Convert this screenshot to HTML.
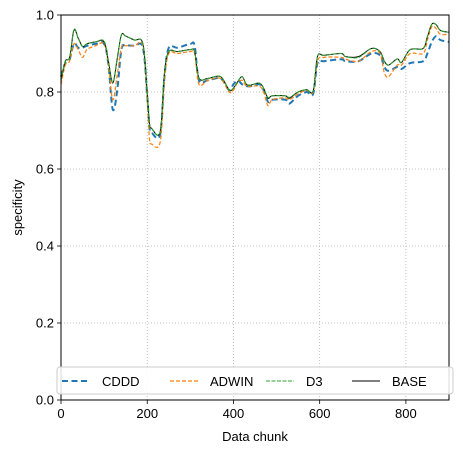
<!DOCTYPE html>
<html><head><meta charset="utf-8"><style>
body{margin:0;background:#fff}
svg{font-family:"Liberation Sans","DejaVu Sans",sans-serif}
</style></head><body>
<svg id="chart" width="463" height="453">
<rect width="463" height="453" fill="#fff"/>
<g id="grid"></g><g id="series"></g><g id="axes"></g><g id="legend"></g>
</svg>
<script>
const xs=[0,10,20,30,40,50,60,80,100,110,120,130,140,150,170,190,200,205,210,230,240,250,270,300,310,320,340,370,390,400,410,420,430,440,460,470,480,490,520,530,550,570,585,595,610,650,660,690,720,740,750,760,780,790,810,840,850,860,870,880,900];
const baseVals=[0.83,0.88,0.89,0.96,0.94,0.918,0.925,0.93,0.93,0.88,0.823,0.883,0.948,0.945,0.935,0.925,0.797,0.72,0.706,0.697,0.85,0.905,0.905,0.91,0.905,0.836,0.835,0.84,0.805,0.81,0.827,0.84,0.82,0.818,0.823,0.81,0.784,0.79,0.79,0.784,0.8,0.806,0.803,0.892,0.895,0.9,0.892,0.892,0.913,0.905,0.88,0.87,0.886,0.877,0.91,0.913,0.944,0.976,0.975,0.96,0.955];
const d3Vals=[0.83,0.88,0.89,0.962,0.94,0.918,0.925,0.93,0.932,0.88,0.825,0.883,0.948,0.945,0.935,0.925,0.797,0.72,0.706,0.697,0.85,0.905,0.905,0.91,0.905,0.836,0.835,0.84,0.805,0.81,0.827,0.84,0.82,0.818,0.823,0.81,0.786,0.79,0.79,0.786,0.8,0.806,0.803,0.892,0.895,0.9,0.892,0.89,0.913,0.905,0.88,0.87,0.886,0.877,0.91,0.913,0.944,0.976,0.975,0.96,0.955];
const cdddVals=[0.84,0.875,0.885,0.925,0.915,0.915,0.92,0.925,0.925,0.87,0.755,0.8,0.91,0.92,0.92,0.915,0.79,0.71,0.695,0.69,0.84,0.915,0.915,0.925,0.92,0.83,0.83,0.835,0.805,0.82,0.83,0.82,0.815,0.815,0.82,0.805,0.775,0.78,0.78,0.77,0.79,0.8,0.795,0.875,0.88,0.885,0.88,0.88,0.9,0.895,0.865,0.855,0.865,0.86,0.875,0.88,0.9,0.93,0.945,0.935,0.93];
const adwinVals=[0.82,0.87,0.88,0.925,0.91,0.89,0.91,0.92,0.925,0.87,0.78,0.84,0.915,0.92,0.92,0.92,0.78,0.68,0.665,0.67,0.83,0.9,0.9,0.905,0.9,0.82,0.83,0.835,0.8,0.805,0.825,0.83,0.815,0.815,0.815,0.8,0.765,0.78,0.785,0.78,0.795,0.805,0.8,0.88,0.89,0.89,0.885,0.88,0.905,0.9,0.85,0.84,0.87,0.87,0.9,0.9,0.935,0.97,0.965,0.95,0.95];
const xTicks=[0,200,400,600,800];
const yTicks=[0.0,0.2,0.4,0.6,0.8,1.0];
const legendLabels=["CDDD","ADWIN","D3","BASE"];

const L=61,R=449,T=15,B=400,XMAX=900;
const sx=v=>L+(v/XMAX)*(R-L);
const sy=v=>B-v*(B-T);
const NS="http://www.w3.org/2000/svg";
function mk(tag,attrs,parent){const e=document.createElementNS(NS,tag);for(const k in attrs)e.setAttribute(k,attrs[k]);parent.appendChild(e);return e;}
function smooth(P){
  let d='M'+P[0][0].toFixed(1)+','+P[0][1].toFixed(1);
  for(let i=0;i<P.length-1;i++){
    const p0=P[Math.max(i-1,0)],p1=P[i],p2=P[i+1],p3=P[Math.min(i+2,P.length-1)];
    const c1=[p1[0]+(p2[0]-p0[0])/6,p1[1]+(p2[1]-p0[1])/6];
    const c2=[p2[0]-(p3[0]-p1[0])/6,p2[1]-(p3[1]-p1[1])/6];
    d+=' C'+c1.map(v=>v.toFixed(1)).join(',')+' '+c2.map(v=>v.toFixed(1)).join(',')+' '+p2[0].toFixed(1)+','+p2[1].toFixed(1);
  }
  return d;
}
const grid=document.getElementById('grid'),axes=document.getElementById('axes'),ser=document.getElementById('series'),leg=document.getElementById('legend');
xTicks.forEach(t=>{
  const g=mk('line',{x1:sx(t),x2:sx(t),y1:T,y2:B,stroke:'#b0b0b0','stroke-width':0.8,'stroke-dasharray':'1,2'},grid);
  
  
  mk('line',{x1:sx(t),x2:sx(t),y1:B,y2:B+4,stroke:'#000','stroke-width':0.8},axes);
  const tx=mk('text',{x:sx(t),y:B+18,'text-anchor':'middle','font-size':13},axes);tx.textContent=t;
  
  
});
yTicks.forEach(t=>{
  const g=mk('line',{x1:L,x2:R,y1:sy(t),y2:sy(t),stroke:'#b0b0b0','stroke-width':0.8,'stroke-dasharray':'1,2'},grid);
  
  
  mk('line',{x1:L-4,x2:L,y1:sy(t),y2:sy(t),stroke:'#000','stroke-width':0.8},axes);
  const tx=mk('text',{x:L-7,y:sy(t)+4.5,'text-anchor':'end','font-size':13},axes);tx.textContent=t.toFixed(1);
  
  
});
const fr=mk('rect',{x:L,y:T,width:R-L,height:B-T,fill:'none',stroke:'#000','stroke-width':1},axes);


const xl=mk('text',{x:(L+R)/2,y:441,'text-anchor':'middle','font-size':13},axes);xl.textContent='Data chunk';


const yl=mk('text',{x:22,y:(T+B)/2,'text-anchor':'middle','font-size':13,transform:`rotate(-90 22 ${(T+B)/2})`},axes);yl.textContent='specificity';



const styles=[
 {vals:cdddVals,c:'#1f77b4',w:2,d:'6,3.5',n:'cddd-line'},
 {vals:adwinVals,c:'#ff7f0e',w:1.2,d:'4,2',n:'adwin-line'},
 {vals:baseVals,c:'#000',w:1,d:'',n:'base-line'},
 {vals:d3Vals,c:'#2ca02c',w:1.1,d:'4,1.5',n:'d3-line'}
];
styles.forEach(s=>{
  const P=xs.map((x,i)=>[sx(x),sy(s.vals[i])]);
  const p=mk('path',{d:smooth(P),fill:'none',stroke:s.c,'stroke-width':s.w,'stroke-dasharray':s.d,'stroke-linejoin':'round'},ser);
  
  
});
const box=mk('rect',{x:57,y:367,width:396,height:27,rx:3,fill:'#fff','fill-opacity':0.85,stroke:'#ccc','stroke-width':1},leg);


const legStyles=[['#1f77b4',2,'6,3.5'],['#ff7f0e',1.2,'4,2'],['#2ca02c',1.1,'4,1.5'],['#000',1,'']];
const lx=[62,170,266,352];
legendLabels.forEach((lab,i)=>{
  const g=mk('g',{},leg);
  
  
  mk('line',{x1:lx[i],x2:lx[i]+28,y1:381,y2:381,stroke:legStyles[i][0],'stroke-width':legStyles[i][1],'stroke-dasharray':legStyles[i][2]},g);
  const t=mk('text',{x:lx[i]+40,y:386,'font-size':13},g);t.textContent=lab;
});
</script>
</body></html>
